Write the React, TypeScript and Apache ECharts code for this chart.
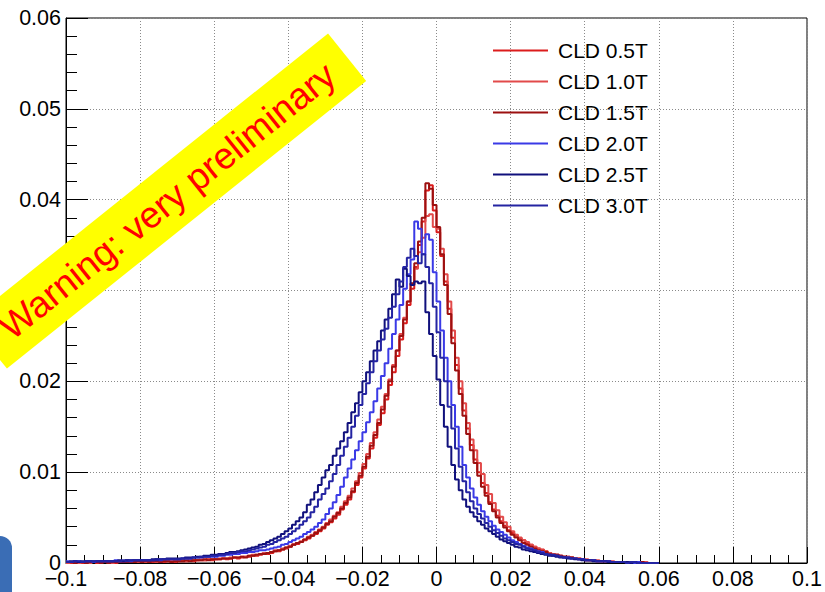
import React, { useEffect, useRef } from "react";
import * as echarts from "echarts";

const FONT = '"Liberation Sans", Arial, Helvetica, sans-serif';

// Histogram binning (left edge of first bin, bin width)
const BIN_START = -0.1;
const BIN_WIDTH = 0.001;

const seriesNames = ["CLD 0.5T", "CLD 1.0T", "CLD 1.5T", "CLD 2.0T", "CLD 2.5T", "CLD 3.0T"];
const seriesColors = ["#dc1c1c", "#e24a4a", "#9c1010", "#3a3ae6", "#10107c", "#2424a2"];

// bin contents in units of 1e-3, bins from -0.100 to 0.060 (10 bins per row)
const cld05 = [
  0.1, 0.0, 0.1, 0.1, 0.0, 0.1, 0.1, 0.1, 0.0, 0.1,
  0.1, 0.1, 0.1, 0.0, 0.1, 0.1, 0.1, 0.1, 0.1, 0.1,
  0.1, 0.1, 0.2, 0.1, 0.1, 0.2, 0.1, 0.2, 0.2, 0.1,
  0.2, 0.2, 0.2, 0.3, 0.2, 0.3, 0.3, 0.3, 0.4, 0.3,
  0.4, 0.4, 0.5, 0.4, 0.5, 0.6, 0.5, 0.6, 0.7, 0.7,
  0.8, 0.8, 0.9, 1.0, 1.0, 1.1, 1.3, 1.3, 1.5, 1.6,
  1.8, 2.0, 2.1, 2.3, 2.5, 2.7, 3.0, 3.2, 3.5, 3.8,
  4.2, 4.5, 4.9, 5.3, 5.9, 6.4, 7.0, 7.8, 8.6, 9.4,
  10.4, 11.5, 12.6, 13.8, 15.2, 16.5, 18.0, 19.6, 21.0, 22.8,
  24.6, 26.4, 28.4, 30.2, 32.6, 35.0, 37.6, 41.0, 41.6, 38.8,
  36.4, 33.8, 31.0, 28.0, 24.8, 21.8, 19.2, 16.8, 14.8, 13.0,
  11.4, 10.0, 8.8, 7.7, 6.7, 5.9, 5.2, 4.6, 4.1, 3.6,
  3.3, 3.0, 2.7, 2.5, 2.2, 2.0, 1.8, 1.6, 1.5, 1.3,
  1.1, 1.0, 0.9, 0.8, 0.7, 0.7, 0.6, 0.5, 0.5, 0.4,
  0.3, 0.3, 0.3, 0.2, 0.2, 0.2, 0.2, 0.1, 0.1, 0.1,
  0.1, 0.1, 0.1, 0.1, 0.0, 0.1, 0.0, 0.0, 0.0, 0.0,
];

const cld10 = [
  0.0, 0.1, 0.1, 0.0, 0.1, 0.1, 0.0, 0.1, 0.1, 0.1,
  0.1, 0.1, 0.0, 0.1, 0.1, 0.1, 0.1, 0.2, 0.1, 0.1,
  0.2, 0.1, 0.2, 0.2, 0.1, 0.2, 0.2, 0.2, 0.2, 0.2,
  0.2, 0.3, 0.2, 0.3, 0.3, 0.3, 0.4, 0.3, 0.4, 0.4,
  0.4, 0.5, 0.5, 0.5, 0.6, 0.6, 0.6, 0.7, 0.7, 0.8,
  0.9, 0.9, 1.0, 1.1, 1.1, 1.2, 1.4, 1.4, 1.6, 1.7,
  1.9, 2.1, 2.2, 2.4, 2.6, 2.9, 3.1, 3.4, 3.7, 4.0,
  4.4, 4.8, 5.2, 5.6, 6.2, 6.8, 7.4, 8.2, 9.0, 9.9,
  10.9, 12.0, 13.2, 14.4, 15.8, 17.2, 18.6, 20.2, 21.8, 23.4,
  25.2, 27.0, 28.8, 30.6, 32.4, 34.2, 35.8, 38.2, 38.4, 37.0,
  36.8, 34.6, 31.8, 28.8, 25.6, 22.6, 20.0, 17.6, 15.4, 13.6,
  12.4, 11.0, 9.8, 8.6, 7.6, 6.6, 5.8, 5.1, 4.5, 4.0,
  3.5, 3.1, 2.8, 2.5, 2.3, 2.0, 1.8, 1.6, 1.4, 1.3,
  1.1, 1.0, 0.9, 0.8, 0.7, 0.7, 0.6, 0.5, 0.5, 0.4,
  0.4, 0.3, 0.3, 0.3, 0.2, 0.2, 0.2, 0.2, 0.1, 0.1,
  0.1, 0.1, 0.1, 0.1, 0.1, 0.0, 0.1, 0.0, 0.0, 0.0,
];

const cld15 = [
  0.1, 0.1, 0.0, 0.1, 0.1, 0.0, 0.1, 0.1, 0.1, 0.0,
  0.1, 0.0, 0.1, 0.1, 0.1, 0.1, 0.1, 0.1, 0.1, 0.2,
  0.1, 0.2, 0.1, 0.2, 0.2, 0.1, 0.2, 0.2, 0.1, 0.2,
  0.2, 0.2, 0.3, 0.2, 0.3, 0.3, 0.3, 0.4, 0.3, 0.4,
  0.4, 0.4, 0.5, 0.5, 0.5, 0.6, 0.6, 0.7, 0.6, 0.8,
  0.8, 0.9, 1.0, 1.0, 1.1, 1.2, 1.3, 1.4, 1.5, 1.7,
  1.8, 2.0, 2.2, 2.3, 2.6, 2.8, 3.0, 3.3, 3.6, 3.9,
  4.3, 4.6, 5.1, 5.5, 6.0, 6.6, 7.2, 7.9, 8.8, 9.6,
  10.6, 11.7, 12.9, 14.1, 15.4, 16.9, 18.4, 20.0, 21.6, 23.4,
  25.0, 26.8, 28.8, 30.8, 33.0, 35.4, 38.0, 41.8, 41.2, 39.4,
  37.0, 34.0, 30.6, 27.4, 24.2, 21.2, 18.6, 16.2, 14.2, 12.4,
  11.0, 9.6, 8.4, 7.4, 6.5, 5.7, 5.0, 4.4, 3.9, 3.5,
  3.1, 2.8, 2.5, 2.2, 2.0, 1.8, 1.6, 1.4, 1.3, 1.2,
  1.0, 0.9, 0.9, 0.8, 0.7, 0.6, 0.6, 0.5, 0.4, 0.4,
  0.3, 0.3, 0.3, 0.2, 0.2, 0.2, 0.2, 0.1, 0.1, 0.1,
  0.1, 0.1, 0.0, 0.1, 0.0, 0.1, 0.0, 0.0, 0.0, 0.0,
];

const cld20 = [
  0.2, 0.1, 0.2, 0.2, 0.1, 0.2, 0.2, 0.1, 0.2, 0.2,
  0.2, 0.2, 0.2, 0.3, 0.2, 0.2, 0.3, 0.2, 0.3, 0.3,
  0.3, 0.3, 0.3, 0.3, 0.4, 0.3, 0.4, 0.4, 0.4, 0.4,
  0.4, 0.5, 0.5, 0.5, 0.6, 0.6, 0.6, 0.7, 0.7, 0.7,
  0.7, 0.8, 0.8, 0.9, 0.9, 1.0, 1.0, 1.1, 1.1, 1.2,
  1.2, 1.3, 1.4, 1.4, 1.5, 1.6, 1.7, 1.8, 2.0, 2.1,
  2.3, 2.5, 2.7, 2.9, 3.2, 3.4, 3.7, 4.0, 4.4, 4.8,
  5.4, 6.0, 6.7, 7.5, 8.4, 9.4, 10.4, 11.4, 12.4, 13.4,
  14.4, 15.5, 16.6, 17.8, 19.2, 20.6, 22.0, 23.6, 25.2, 26.8,
  28.4, 30.2, 31.8, 33.4, 37.6, 36.8, 34.0, 36.2, 35.6, 32.0,
  28.8, 25.6, 22.6, 20.0, 17.4, 15.0, 12.8, 10.8, 9.4, 8.2,
  7.2, 6.4, 5.7, 5.1, 4.6, 4.1, 3.7, 3.4, 3.1, 2.8,
  2.5, 2.3, 2.1, 1.9, 1.7, 1.6, 1.4, 1.3, 1.2, 1.0,
  0.9, 0.8, 0.8, 0.7, 0.6, 0.6, 0.5, 0.5, 0.4, 0.4,
  0.3, 0.3, 0.3, 0.2, 0.2, 0.2, 0.2, 0.1, 0.1, 0.1,
  0.1, 0.1, 0.1, 0.0, 0.1, 0.0, 0.0, 0.0, 0.0, 0.0,
];

const cld25 = [
  0.1, 0.2, 0.2, 0.1, 0.2, 0.2, 0.2, 0.2, 0.2, 0.2,
  0.2, 0.2, 0.2, 0.2, 0.3, 0.2, 0.3, 0.3, 0.3, 0.3,
  0.3, 0.3, 0.3, 0.4, 0.4, 0.4, 0.4, 0.5, 0.5, 0.5,
  0.5, 0.5, 0.6, 0.6, 0.6, 0.7, 0.7, 0.8, 0.8, 0.9,
  0.9, 1.0, 1.0, 1.1, 1.2, 1.2, 1.3, 1.4, 1.5, 1.6,
  1.7, 1.8, 2.0, 2.1, 2.3, 2.5, 2.7, 2.9, 3.2, 3.5,
  3.8, 4.2, 4.6, 5.0, 5.6, 6.4, 7.0, 7.8, 8.6, 9.4,
  10.2, 10.8, 11.8, 12.6, 13.4, 14.4, 15.4, 16.6, 17.6, 18.8,
  20.0, 21.0, 22.2, 23.4, 24.4, 25.6, 26.8, 28.0, 29.6, 31.2,
  30.4, 32.4, 31.6, 30.6, 31.0, 30.8, 31.0, 27.6, 25.2, 22.8,
  20.2, 17.4, 15.0, 12.8, 10.8, 9.2, 8.0, 7.0, 6.2, 5.6,
  5.1, 4.6, 4.2, 3.8, 3.5, 3.2, 2.9, 2.6, 2.4, 2.2,
  2.0, 1.8, 1.7, 1.5, 1.4, 1.3, 1.2, 1.1, 1.0, 0.9,
  0.8, 0.8, 0.7, 0.6, 0.6, 0.5, 0.5, 0.4, 0.4, 0.3,
  0.3, 0.3, 0.2, 0.2, 0.2, 0.2, 0.1, 0.1, 0.1, 0.1,
  0.1, 0.1, 0.0, 0.1, 0.0, 0.0, 0.0, 0.0, 0.0, 0.0,
];

const cld30 = [
  0.1, 0.1, 0.2, 0.2, 0.1, 0.2, 0.2, 0.2, 0.2, 0.2,
  0.2, 0.2, 0.2, 0.2, 0.2, 0.3, 0.2, 0.3, 0.3, 0.3,
  0.3, 0.3, 0.3, 0.3, 0.3, 0.4, 0.4, 0.4, 0.4, 0.4,
  0.4, 0.5, 0.5, 0.5, 0.6, 0.6, 0.7, 0.7, 0.7, 0.8,
  0.8, 0.9, 0.9, 1.0, 1.1, 1.1, 1.2, 1.3, 1.3, 1.4,
  1.5, 1.6, 1.7, 1.8, 2.0, 2.1, 2.3, 2.5, 2.7, 2.9,
  3.2, 3.5, 3.8, 4.2, 4.6, 5.0, 5.6, 6.2, 7.0, 7.6,
  8.2, 9.0, 9.8, 10.8, 11.8, 12.8, 13.8, 15.0, 16.2, 17.4,
  18.6, 19.8, 21.0, 22.2, 23.4, 24.6, 25.8, 27.0, 28.2, 29.6,
  31.0, 32.6, 33.6, 34.6, 33.8, 33.0, 34.0, 32.6, 30.8, 28.2,
  25.4, 22.6, 20.0, 17.2, 14.8, 12.6, 10.6, 9.0, 7.8, 6.8,
  6.0, 5.4, 4.9, 4.4, 4.0, 3.6, 3.3, 3.0, 2.7, 2.5,
  2.3, 2.1, 2.0, 1.8, 1.6, 1.5, 1.4, 1.2, 1.1, 1.0,
  0.9, 0.9, 0.8, 0.7, 0.6, 0.6, 0.5, 0.5, 0.4, 0.4,
  0.3, 0.3, 0.3, 0.2, 0.2, 0.2, 0.2, 0.1, 0.1, 0.1,
  0.1, 0.0, 0.1, 0.1, 0.0, 0.0, 0.0, 0.0, 0.0, 0.0,
];

const seriesValues = [cld05, cld10, cld15, cld20, cld25, cld30];

const xTickLabel = (v: number) => {
  const r = Math.round(v * 100) / 100;
  if (r === 0) return "0";
  const s = String(Math.abs(r));
  return r < 0 ? "\u2212" + s : s;
};
const yTickLabel = (v: number) => {
  const r = Math.round(v * 100) / 100;
  return r === 0 ? "0" : r.toFixed(2);
};

function toSteps(vals: number[]) {
  const pts: [number, number][] = vals.map((v, i) => [
    Number((BIN_START + i * BIN_WIDTH).toFixed(4)),
    v / 1000,
  ]);
  pts.push([
    Number((BIN_START + vals.length * BIN_WIDTH).toFixed(4)),
    vals[vals.length - 1] / 1000,
  ]);
  return pts;
}

export default function App() {
  const ref = useRef<HTMLDivElement>(null);
  useEffect(() => {
    if (!ref.current) return;
    const chart = echarts.init(ref.current, undefined, { renderer: "svg" });
    const axisCommon = {
      type: "value" as const,
      axisLine: { show: true, onZero: false, lineStyle: { color: "#000", width: 1 } },
      splitLine: { show: true, lineStyle: { color: "#8a8a8a", width: 1, type: [1, 2] } },
      axisLabel: {
        fontSize: 21.5,
        fontFamily: FONT,
        color: "#000",
        margin: 5,
        showMinLabel: true,
        showMaxLabel: true,
      },
    };
    chart.setOption({
      animation: false,
      backgroundColor: "#ffffff",
      grid: {
        left: 66,
        right: 18,
        top: 18,
        bottom: 29,
        show: true,
        borderColor: "#000",
        borderWidth: 1,
        backgroundColor: "transparent",
      },
      xAxis: {
        ...axisCommon,
        min: -0.1,
        max: 0.1,
        interval: 0.02,
        axisTick: { show: true, inside: true, length: 16, lineStyle: { color: "#000" } },
        minorTick: { show: true, splitNumber: 4, length: 8, lineStyle: { color: "#000" } },
        axisLabel: { ...axisCommon.axisLabel, formatter: xTickLabel },
      },
      yAxis: {
        ...axisCommon,
        min: 0,
        max: 0.06,
        interval: 0.01,
        axisTick: { show: true, inside: true, length: 22, lineStyle: { color: "#000" } },
        minorTick: { show: true, splitNumber: 5, length: 11, lineStyle: { color: "#000" } },
        axisLabel: { ...axisCommon.axisLabel, formatter: yTickLabel },
      },
      legend: {
        orient: "vertical",
        left: 493,
        top: 40,
        padding: 0,
        itemWidth: 55,
        itemHeight: 2,
        itemGap: 10,
        icon: "rect",
        selectedMode: false,
        data: seriesNames,
        textStyle: {
          fontSize: 21,
          fontFamily: FONT,
          color: "#000",
          lineHeight: 21,
          padding: [0, 0, 0, 5],
        },
      },
      series: seriesNames.map((name, k) => ({
        name,
        type: "line",
        step: "end",
        showSymbol: false,
        symbol: "none",
        color: seriesColors[k],
        lineStyle: { width: 2, color: seriesColors[k] },
        data: toSteps(seriesValues[k]),
        z: 2 + k,
      })),
      graphic: [
        {
          type: "group",
          x: 167.5,
          y: 201,
          rotation: 0.675,
          z: 100,
          zlevel: 1,
          children: [
            {
              type: "rect",
              z: 100,
              shape: { x: -230, y: -30.5, width: 460, height: 61 },
              style: { fill: "#ffff00" },
            },
            {
              type: "text",
              z: 101,
              x: 0,
              y: 0,
              style: {
                text: "Warning: very preliminary",
                fill: "#ff0000",
                fontSize: 37,
                fontFamily: FONT,
                align: "center",
                verticalAlign: "middle",
              },
            },
          ],
        },
        {
          type: "rect",
          z: 100,
          zlevel: 1,
          shape: { x: -20, y: 536, width: 32, height: 80, r: 12 },
          style: { fill: "#3a6db5" },
        },
      ],
    });
    return () => chart.dispose();
  }, []);
  return (
    <div
      ref={ref}
      style={{ position: "fixed", left: 0, top: 0, width: 825, height: 592, background: "#fff" }}
    />
  );
}
